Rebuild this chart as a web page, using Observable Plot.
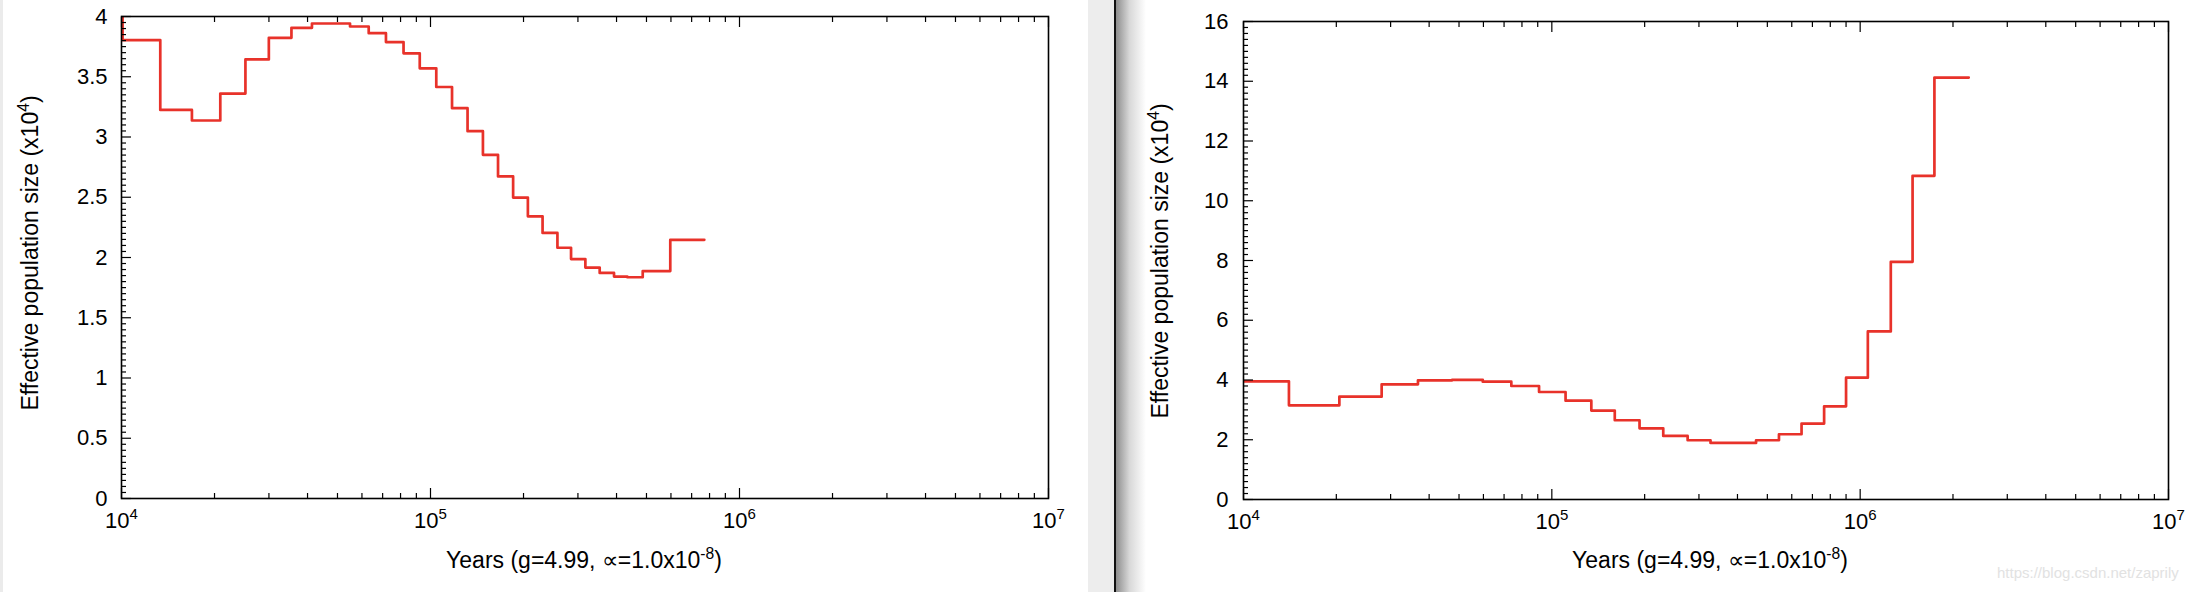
<!DOCTYPE html>
<html>
<head>
<meta charset="utf-8">
<script src="https://cdn.jsdelivr.net/npm/d3@7"></script>
<script src="https://cdn.jsdelivr.net/npm/@observablehq/plot@0.6"></script>
<style>
  html, body { margin: 0; padding: 0; background: #fff; }
  #page { position: relative; width: 2198px; height: 592px; overflow: hidden;
          font-family: "Liberation Sans", Arial, Helvetica, sans-serif; color: #000; background: #fff; }
  .abs { position: absolute; }
  .ytitle { position: absolute; font-size: 23px; line-height: 23px; white-space: nowrap;
            transform: translate(-50%, -50%) rotate(-90deg); }
  .xtitle { position: absolute; font-size: 23px; line-height: 23px; white-space: nowrap;
            transform: translateX(-50%); }
  sup { font-size: 0.68em; line-height: 0; vertical-align: 0.55em; }
  #leftPlot { position: absolute; left: 0; top: 0; }
  #rightPlot { position: absolute; left: 1088px; top: 0; }
</style>
</head>
<body>
<div id="page">
  <div class="abs" style="left:0;top:0;width:3px;height:592px;background:#ebebeb;"></div>
  <div class="abs" style="left:1088px;top:0;width:26px;height:592px;background:#ededed;"></div>
  <div class="abs" style="left:1114px;top:0;width:2px;height:592px;background:#111;"></div>
  <div class="abs" style="left:1116px;top:0;width:30px;height:592px;background:linear-gradient(to right,#8e8e8e,#d8d8d8 45%,#ffffff);"></div>
  <div id="leftPlot"></div>
  <div id="rightPlot"></div>
  <div class="ytitle" style="left:30px;top:253px;">Effective population size (x10<sup>4</sup>)</div>
  <div class="xtitle" style="left:584px;top:549px;">Years (g=4.99, ∝=1.0x10<sup>-8</sup>)</div>
  <div class="ytitle" style="left:1160px;top:261px;">Effective population size (x10<sup>4</sup>)</div>
  <div class="xtitle" style="left:1710px;top:549px;">Years (g=4.99, ∝=1.0x10<sup>-8</sup>)</div>
  <div class="abs" style="left:1997px;top:565px;font-size:15px;line-height:15px;color:#e2e2e2;white-space:nowrap;">https://blog.csdn.net/zaprily</div>
</div>
<script>
// ---- Left panel data: step start times (years) and Ne (x10^4) ----
const leftYears = [9000, 10080, 13350, 16900, 20880, 25180, 29980, 35480, 41340, 54900, 63100,
  71750, 81800, 92300, 104400, 117400, 131800, 147800, 165400, 185100, 206600, 230500,
  257500, 285000, 317100, 352800, 392600, 433400, 486200, 597000, 769500];
const leftNe = [4.4, 3.804, 3.225, 3.137, 3.360, 3.644, 3.823, 3.906, 3.942, 3.917, 3.862,
  3.788, 3.694, 3.570, 3.415, 3.239, 3.048, 2.852, 2.673, 2.497, 2.342, 2.204,
  2.081, 1.987, 1.916, 1.872, 1.842, 1.836, 1.887, 2.147, 2.147];

// ---- Right panel data ----
const rightYears = [9000, 14040, 20460, 28060, 36800, 47500, 59700, 73900, 90900, 110800,
  134300, 160000, 192500, 229800, 275700, 327100, 459600, 545300, 645500, 764000,
  900000, 1059000, 1257000, 1479000, 1741000, 2250000];
const rightNe = [3.955, 3.153, 3.443, 3.855, 3.990, 4.005, 3.944, 3.799, 3.599, 3.309,
  2.975, 2.652, 2.384, 2.128, 1.983, 1.894, 1.983, 2.184, 2.540, 3.120,
  4.078, 5.627, 7.956, 10.833, 14.122, 14.122];

// ---- Axis ticks ----
const xMajorTicks = [1e4, 1e5, 1e6, 1e7];
const xMinorTicks = [1e4, 1e5, 1e6].flatMap(b => [2,3,4,5,6,7,8,9].map(m => m * b));
const leftYMajor = [0, 0.5, 1, 1.5, 2, 2.5, 3, 3.5, 4];
const rightYMajor = [0, 2, 4, 6, 8, 10, 12, 14, 16];
const leftYMinor = d3.range(0, 81).map(i => i * 0.05).filter((v, i) => i % 10 !== 0);
const rightYMinor = d3.range(0, 81).map(i => i * 0.2).filter((v, i) => i % 10 !== 0);

const lineColor = "#e8322a";

function panel({years, ne, yMax, yMajor, yMinor, width, height, margins, yPad}) {
  const data = years.map((t, i) => ({t, n: ne[i]}));
  const svg = Plot.plot({
    width, height, ...margins,
    style: {background: "transparent", fontFamily: '"Liberation Sans", Arial, Helvetica, sans-serif', fontSize: "22px", color: "#000", overflow: "visible"},
    x: {type: "log", domain: [1e4, 1e7], axis: null, label: null},
    y: {domain: [0, yMax], axis: null, label: null},
    marks: [
      Plot.line(data, {x: "t", y: "n", curve: "step-after", stroke: lineColor, strokeWidth: 2.7, clip: true}),
      Plot.axisX(xMajorTicks, {anchor: "bottom", tickSize: -10, fill: "none", strokeWidth: 1.2, label: null}),
      Plot.axisX(xMinorTicks, {anchor: "bottom", tickSize: -5, fill: "none", strokeWidth: 1.2, label: null}),
      Plot.axisX(xMajorTicks, {anchor: "top", tickSize: -10, fill: "none", strokeWidth: 1.2, label: null}),
      Plot.axisX(xMinorTicks, {anchor: "top", tickSize: -5, fill: "none", strokeWidth: 1.2, label: null}),
      Plot.axisX(xMajorTicks, {anchor: "bottom", tickSize: 0, tickPadding: 14, stroke: "none",
        tickFormat: d => "10^" + Math.round(Math.log10(d)), label: null}),
      Plot.axisY(yMajor, {anchor: "left", tickSize: -10, fill: "none", strokeWidth: 1.2, label: null}),
      Plot.axisY(yMinor, {anchor: "left", tickSize: -5, fill: "none", strokeWidth: 1.2, label: null}),
      Plot.axisY(yMajor, {anchor: "left", tickSize: 0, tickPadding: yPad, stroke: "none",
        tickFormat: d => String(d), label: null}),
      Plot.frame({stroke: "#000", strokeWidth: 1.6})
    ]
  });
  // superscript exponents on x tick labels
  svg.querySelectorAll('[aria-label="x-axis tick label"] text').forEach(t => {
    const s = t.textContent;
    const m = s.match(/^(\d+)\^(.+)$/);
    if (!m) return;
    t.textContent = m[1];
    const sp = document.createElementNS("http://www.w3.org/2000/svg", "tspan");
    sp.setAttribute("dy", "-9");
    sp.setAttribute("font-size", "15");
    sp.textContent = m[2];
    t.appendChild(sp);
  });
  return svg;
}

document.getElementById("leftPlot").appendChild(panel({
  years: leftYears, ne: leftNe, yMax: 4, yMajor: leftYMajor, yMinor: leftYMinor,
  width: 1088, height: 592, yPad: 14,
  margins: {marginLeft: 121, marginRight: 40, marginTop: 16, marginBottom: 94}
}));
document.getElementById("rightPlot").appendChild(panel({
  years: rightYears, ne: rightNe, yMax: 16, yMajor: rightYMajor, yMinor: rightYMinor,
  width: 1110, height: 592, yPad: 15,
  margins: {marginLeft: 155, marginRight: 30, marginTop: 21, marginBottom: 93}
}));
</script>
</body>
</html>
